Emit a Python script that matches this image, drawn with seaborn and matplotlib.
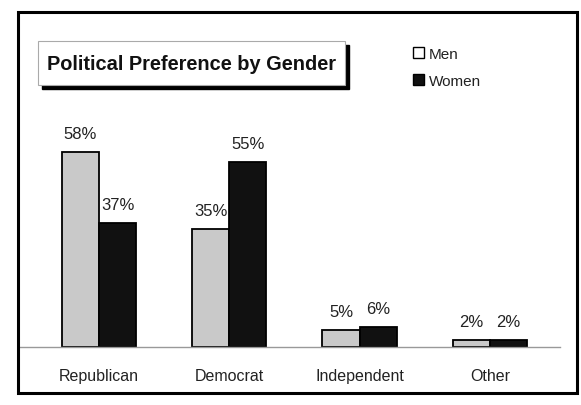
import pandas as pd
import seaborn as sns
import matplotlib.pyplot as plt
from matplotlib.patches import Rectangle, Patch

parties = ["Republican", "Democrat", "Independent", "Other"]
men = [58, 35, 5, 2]
women = [37, 55, 6, 2]

df = pd.DataFrame({
    "Party": parties * 2,
    "Gender": ["Men"] * 4 + ["Women"] * 4,
    "Pct": men + women,
})

sns.set_style("white")
plt.rcParams["font.family"] = ["Liberation Sans", "DejaVu Sans"]

W, H = 581, 406
fig = plt.figure(figsize=(W / 100, H / 100), dpi=100)


def fx(x):
    return x / W


def fy(y):
    return 1 - y / H


# axes: baseline at y=348px, 3.36 px per percent, category spacing 130.3 px
left, right, base, top = 20, 560, 348, 100
ax = fig.add_axes([fx(left), fy(base), fx(right - left), (base - top) / H])
sns.barplot(data=df, x="Party", y="Pct", hue="Gender",
            palette={"Men": "#c9c9c9", "Women": "#111111"},
            edgecolor="black", linewidth=1.3, width=0.57, gap=0,
            legend=False, ax=ax)
ax.set_xlim((left - 99) / 130.3, (right - 99) / 130.3)
ax.set_ylim(0, (base - top) / 3.36)
for c in ax.containers:
    ax.bar_label(c, fmt="%g%%", padding=8, fontsize=12, color="#222222")
for s in ["left", "right", "top"]:
    ax.spines[s].set_visible(False)
ax.spines["bottom"].set_color("#999999")
ax.spines["bottom"].set_linewidth(1)
ax.set_yticks([])
ax.set_xlabel("")
ax.set_ylabel("")
ax.tick_params(axis="x", length=0, pad=15, labelsize=11.5, labelcolor="#222222")
ax.patch.set_alpha(0)

# outer frame
fig.patches.append(Rectangle((fx(18), fy(394)), fx(577 - 18), (394 - 13) / H,
                             transform=fig.transFigure, fill=False,
                             edgecolor="black", linewidth=2.2))

# title box with shadow
bx0, bx1, by0, by1 = 38, 345, 42, 86
fig.patches.append(Rectangle((fx(bx0 + 4), fy(by1 + 4)), fx(bx1 - bx0), (by1 - by0) / H,
                             transform=fig.transFigure, facecolor="black",
                             edgecolor="black"))
fig.patches.append(Rectangle((fx(bx0), fy(by1)), fx(bx1 - bx0), (by1 - by0) / H,
                             transform=fig.transFigure, facecolor="white",
                             edgecolor="#aaaaaa", linewidth=0.8))
fig.text(fx((bx0 + bx1) / 2), fy(64), "Political Preference by Gender",
         ha="center", va="center", fontsize=14.4, fontweight="bold", color="#111111")

# legend
handles = [Patch(facecolor="white", edgecolor="black", linewidth=1),
           Patch(facecolor="#111111", edgecolor="black", linewidth=1)]
fig.legend(handles, ["Men", "Women"], loc="upper left",
           bbox_to_anchor=(fx(399), fy(34)), frameon=False,
           handlelength=0.75, handleheight=0.75, handletextpad=0.3,
           labelspacing=0.85, fontsize=11, labelcolor="#222222")

fig.savefig("out.png", dpi=100)
